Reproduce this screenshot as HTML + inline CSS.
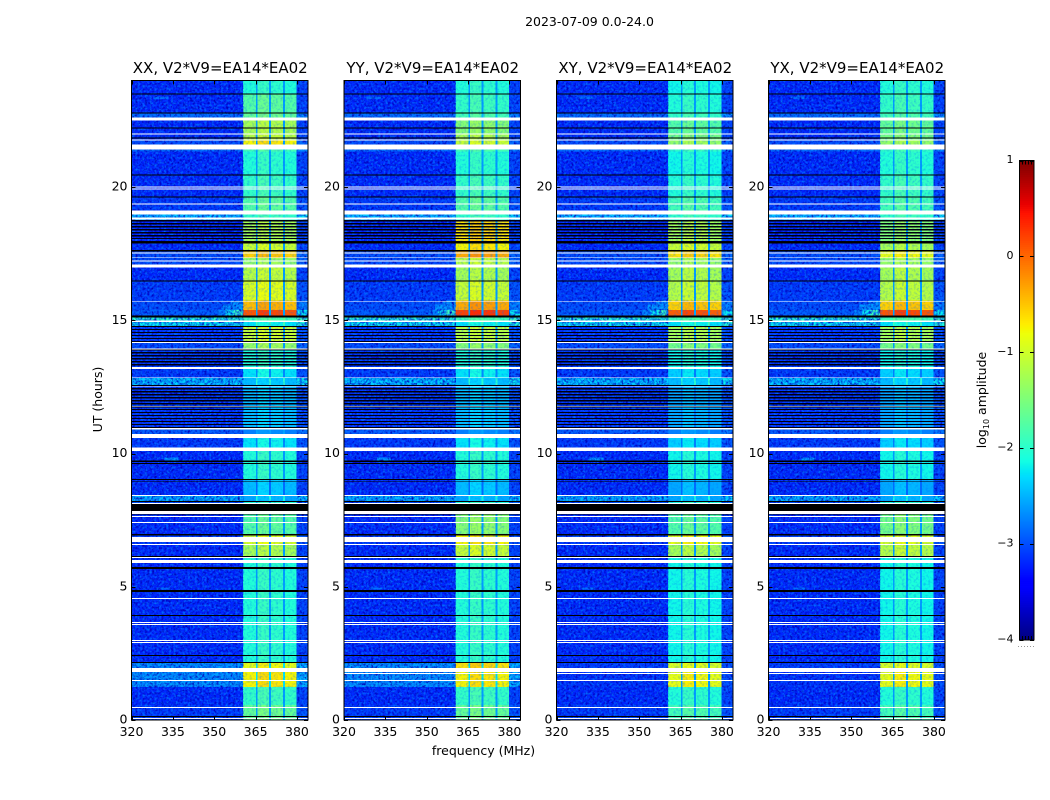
<!DOCTYPE html>
<html lang="en">
<head>
<meta charset="utf-8">
<title>2023-07-09 dynamic spectra</title>
<style>
  html, body { margin: 0; padding: 0; background: #fff; }
  svg { display: block; }
  text { font-family: "DejaVu Sans", "Liberation Sans", sans-serif; fill: #000; }
</style>
</head>
<body>
<svg id="chart" xmlns="http://www.w3.org/2000/svg" width="1050" height="800" viewBox="0 0 1050 800">
  <defs>
    <filter id="darkSpeck" x="0" y="0" width="100%" height="100%" color-interpolation-filters="sRGB">
      <feTurbulence type="fractalNoise" baseFrequency="0.42" numOctaves="2" seed="4"/>
      <feColorMatrix type="matrix" values="0 0 0 0 0  0 0 0 0 0  0 0 0 0 0.72  2.6 0 0 0 -1.1"/>
    </filter>
    <filter id="lightSpeck" x="0" y="0" width="100%" height="100%" color-interpolation-filters="sRGB">
      <feTurbulence type="fractalNoise" baseFrequency="0.42" numOctaves="2" seed="11"/>
      <feColorMatrix type="matrix" values="0 0 0 0 0  0 0 0 0 0.42  0 0 0 0 1  0 2.6 0 0 -1.15"/>
    </filter>
  </defs>
  <rect x="0" y="0" width="1050" height="800" fill="#fff"/>
  <text x="589.5" y="26" font-size="12.5" text-anchor="middle">2023-07-09 0.0-24.0</text>
  <text x="483.5" y="755" font-size="12.5" text-anchor="middle">frequency (MHz)</text>
  <text transform="translate(102,399.5) rotate(-90)" font-size="12.5" text-anchor="middle">UT (hours)</text>
  <text transform="translate(986,400) rotate(-90)" font-size="12.5" text-anchor="middle">log<tspan font-size="8" dy="3">10</tspan><tspan dy="-3"> amplitude</tspan></text>
  <g id="panels"></g>
  <g id="colorbar"></g>
</svg>
<script>
// ---------- data ----------
const panelNames = ["XX", "YY", "XY", "YX"];
const baselineLabel = "V2*V9=EA14*EA02";
const freqTicks = [320, 335, 350, 365, 380];
const hourTicks = [0, 5, 10, 15, 20];
const colorTicks = [-4, -3, -2, -1, 0, 1];

// in-band receiver segments (MHz)
const subbandStart = [360.5, 365.6, 370.5, 375.6];
const subbandEnd = [365.1, 369.9, 375.0, 379.9];

// time ranges (UT hours) and log10 amplitude in each
const rangeStart = [23.51,22.76,22.50,22.01,21.75,21.60,21.34,20.48,19.65,18.98,18.75,17.93,17.63,17.36,16.99,16.50,15.75,15.38,15.15,14.96,14.78,14.18,13.91,13.20,12.83,12.56,10.95,10.58,10.09,9.00,8.44,8.21,7.73,6.98,6.56,6.15,2.14,1.95,1.24,0.56,0.00];
const rangeEnd   = [24.00,23.51,22.76,22.50,22.01,21.75,21.60,21.34,20.48,19.65,18.98,18.75,17.93,17.63,17.36,16.99,16.50,15.75,15.38,15.15,14.96,14.78,14.18,13.91,13.20,12.83,12.56,10.95,10.58,10.09,9.00,8.44,8.21,7.73,6.98,6.56,6.15,2.14,1.95,1.24,0.56];
const backgroundParallel = [-3.2,-3.2,-2.8,-3.2,-3.2,-3.0,-2.8,-3.2,-3.2,-3.1,-2.4,-3.2,-3.2,-3.0,-3.0,-3.2,-3.1,-3.0,-2.9,-2.0,-2.2,-3.1,-3.0,-3.1,-3.1,-2.35,-3.1,-2.9,-3.1,-3.2,-3.2,-2.45,-3.0,-3.2,-3.1,-3.2,-3.2,-2.6,-2.6,-3.2,-3.1];
const backgroundCross    = [-3.2,-3.2,-2.8,-3.2,-3.2,-3.0,-2.8,-3.2,-3.2,-3.1,-2.4,-3.2,-3.2,-3.0,-3.0,-3.2,-3.1,-3.0,-2.9,-2.0,-2.2,-3.1,-3.0,-3.1,-3.1,-2.35,-3.1,-2.9,-3.1,-3.2,-3.2,-2.45,-3.0,-3.2,-3.1,-3.2,-3.2,-3.1,-3.15,-3.2,-3.1];
const bandXX = [-2.0,-1.7,-1.6,-1.2,-1.1,-0.7,-1.8,-2.0,-1.9,-1.7,-1.9,-1.2,-1.0,-0.5,-1.3,-1.1,-0.9,-0.4,0.15,-1.8,-2.2,-1.0,-1.3,-2.0,-2.2,-2.4,-2.4,-2.7,-2.2,-2.0,-2.4,-2.5,-2.0,-1.7,-0.9,-1.2,-2.0,-0.8,-0.7,-1.9,-1.6];
const bandYY = [-2.0,-1.9,-1.8,-1.4,-1.2,-1.0,-1.8,-2.0,-1.9,-1.7,-1.9,-0.6,-0.7,-0.3,-1.1,-1.2,-1.0,-0.3,0.25,-1.8,-2.2,-1.1,-1.4,-2.0,-2.2,-2.4,-2.4,-2.7,-2.2,-2.0,-2.4,-2.5,-2.0,-1.4,-0.7,-1.0,-2.0,-0.6,-0.7,-1.9,-1.6];
const bandXY = [-2.1,-2.0,-1.9,-1.7,-1.5,-1.3,-1.9,-2.1,-2.0,-1.8,-1.9,-1.2,-1.0,-0.6,-1.3,-1.2,-1.1,-0.5,0.10,-1.8,-2.2,-1.2,-1.5,-2.1,-2.3,-2.4,-2.5,-2.7,-2.3,-2.1,-2.5,-2.5,-2.0,-1.7,-0.8,-1.2,-2.1,-0.9,-0.8,-2.0,-1.8];
const bandYX = [-2.0,-1.9,-1.8,-1.6,-1.5,-1.3,-1.9,-2.0,-1.9,-1.8,-1.9,-1.4,-1.2,-0.8,-1.3,-1.2,-1.1,-0.5,0.15,-1.8,-2.2,-1.2,-1.5,-2.1,-2.3,-2.4,-2.5,-2.7,-2.3,-2.1,-2.5,-2.5,-2.0,-1.5,-0.9,-1.1,-2.1,-0.9,-0.8,-2.0,-1.8];
const subbandTilt = [-0.05, 0.08, 0.02, -0.05];

// flagged rows (white) and zero-amplitude rows (black), UT hours
const whiteStart = [22.50,21.98,21.75,21.41,19.99,19.91,19.35,18.98,18.79,17.51,17.33,17.21,16.99,15.68,14.94,14.14,13.91,13.18,12.83,12.51,11.76,10.91,10.58,10.09,8.40,8.10,7.73,7.61,7.39,6.68,6.56,6.08,5.89,4.54,3.64,3.56,2.96,2.89,1.80,1.46,0.45,0.04];
const whiteEnd   = [22.62,22.01,21.79,21.60,20.03,19.95,19.39,19.13,18.86,17.55,17.36,17.25,17.10,15.71,15.00,14.18,13.95,13.24,12.86,12.54,11.79,10.95,10.73,10.22,8.44,8.14,7.84,7.65,7.43,6.87,6.60,6.11,6.00,4.58,3.68,3.60,3.00,2.93,1.95,1.50,0.49,0.08];
const blackStart = [23.47,22.76,22.20,21.83,20.44,19.61,17.89,17.59,16.46,15.11,14.74,12.54,9.69,9.60,9.00,8.93,8.18,7.84,7.69,6.92,6.11,5.66,4.80,3.90,2.40,2.14,0.11];
const blackEnd   = [23.51,22.80,22.24,21.86,20.48,19.65,17.93,17.63,16.50,15.19,14.78,12.56,9.73,9.64,9.04,8.96,8.21,8.10,7.71,6.98,6.15,5.74,4.88,3.94,2.44,2.18,0.15];
const stripeStart = [17.93, 14.18, 13.20, 10.95];
const stripeEnd = [18.75, 14.78, 13.91, 12.56];
const stripePeriodHours = 0.1125;
const stripeWidthHours = 0.045;
const secondWhiteHour = [1.72, 1.72, 1.72];

// local bright features: time, frequency, level
const patchStart = [15.15,15.15,15.15,15.38,15.60,15.15,15.38,23.30,9.72,4.90];
const patchEnd   = [15.38,15.38,15.38,15.60,15.75,15.38,15.75,23.40,9.86,4.98];
const patchFreqLo = [351,354,357,353,356,380.2,380.2,328,332,329];
const patchFreqHi = [354,357,360.5,360.5,360.5,384,384,333.5,337,334];
const patchLevel = [-2.7,-2.2,-1.9,-2.6,-2.6,-2.2,-2.7,-2.8,-2.6,-2.8];

// ---------- axes ----------
const panelLeft = [131.5, 344, 556.5, 768.5];
const panelRight = [308, 520.5, 733, 945];
const plotTop = 80.5, plotBottom = 720;
const freqMin = 320, freqMax = 384, hourMin = 0, hourMax = 24;
const barLeft = 1019.5, barRight = 1034, barTop = 160.5, barBottom = 640, cMin = -4, cMax = 1;
const NS = "http://www.w3.org/2000/svg";

function xScale(p, f) { return panelLeft[p] + (f - freqMin) / (freqMax - freqMin) * (panelRight[p] - panelLeft[p]); }
function yScale(h) { return plotBottom - (h - hourMin) / (hourMax - hourMin) * (plotBottom - plotTop); }
function cScale(v) { return barBottom - (v - cMin) / (cMax - cMin) * (barBottom - barTop); }

function ramp(t, pts) {
  if (t <= pts[0][0]) return pts[0][1];
  for (let i = 1; i < pts.length; i++) {
    if (t <= pts[i][0]) {
      const a = pts[i - 1], b = pts[i];
      return a[1] + (t - a[0]) / (b[0] - a[0]) * (b[1] - a[1]);
    }
  }
  return pts[pts.length - 1][1];
}
function jet(v) {
  const t = Math.max(0, Math.min(1, (v - cMin) / (cMax - cMin)));
  const r = ramp(t, [[0.35, 0], [0.66, 1], [0.89, 1], [1, 0.5]]);
  const g = ramp(t, [[0.125, 0], [0.375, 1], [0.64, 1], [0.91, 0]]);
  const b = ramp(t, [[0, 0.5], [0.11, 1], [0.34, 1], [0.65, 0]]);
  return "rgb(" + Math.round(r * 255) + "," + Math.round(g * 255) + "," + Math.round(b * 255) + ")";
}
function addRect(parent, x, y, w, h, fill) {
  const el = document.createElementNS(NS, "rect");
  el.setAttribute("x", x.toFixed(2));
  el.setAttribute("y", y.toFixed(2));
  el.setAttribute("width", Math.max(w, 0).toFixed(2));
  el.setAttribute("height", Math.max(h, 0).toFixed(2));
  el.setAttribute("fill", fill);
  parent.appendChild(el);
  return el;
}
function addLine(parent, x1, y1, x2, y2, stroke) {
  const el = document.createElementNS(NS, "line");
  el.setAttribute("x1", x1);
  el.setAttribute("y1", y1);
  el.setAttribute("x2", x2);
  el.setAttribute("y2", y2);
  el.setAttribute("stroke", stroke);
  el.setAttribute("stroke-width", "1");
  parent.appendChild(el);
  return el;
}
function addText(parent, x, y, str, size, anchor) {
  const el = document.createElementNS(NS, "text");
  el.setAttribute("x", x);
  el.setAttribute("y", y);
  el.setAttribute("font-size", size);
  el.setAttribute("text-anchor", anchor);
  el.textContent = str;
  parent.appendChild(el);
  return el;
}

// ---------- panels ----------
const panelsRoot = document.getElementById("panels");
const bandSets = [bandXX, bandYY, bandXY, bandYX];
const backgroundSets = [backgroundParallel, backgroundParallel, backgroundCross, backgroundCross];

function cell(group, p, t0, t1, f0, f1, level) {
  const el = addRect(group, xScale(p, f0), yScale(t1), xScale(p, f1) - xScale(p, f0), yScale(t0) - yScale(t1), jet(level));
  el.setAttribute("shape-rendering", "crispEdges");
  
  
}
function band(group, p, t0, t1, color, name) {
  const el = addRect(group, panelLeft[p] + 0.5, yScale(t1), panelRight[p] - panelLeft[p] - 0.5, yScale(t0) - yScale(t1), color);
  el.setAttribute("shape-rendering", "crispEdges");
  
  
}
function noise(group, p, f0, f1, filterId, fill, opacity, name) {
  const el = addRect(group, xScale(p, f0), plotTop, xScale(p, f1) - xScale(p, f0), plotBottom - plotTop, fill);
  el.setAttribute("filter", "url(#" + filterId + ")");
  el.setAttribute("opacity", opacity);
  
  
}

panelNames.forEach(function (name, p) {
  const g = document.createElementNS(NS, "g");
  
  
  panelsRoot.appendChild(g);

  const bg = backgroundSets[p], lv = bandSets[p];
  rangeStart.forEach(function (t0, i) {
    const t1 = rangeEnd[i];
    const gap = Math.max(bg[i] + 0.35, Math.min(-2.6, lv[i] - 0.5));
    cell(g, p, t0, t1, freqMin, subbandStart[0], bg[i]);
    subbandStart.forEach(function (f0, s) {
      cell(g, p, t0, t1, f0, subbandEnd[s], lv[i] + subbandTilt[s]);
      const next = s < subbandStart.length - 1 ? subbandStart[s + 1] : freqMax;
      const edge = s < subbandStart.length - 1 ? gap : bg[i] + 0.15;
      cell(g, p, t0, t1, subbandEnd[s], next, edge);
    });
  });
  patchStart.forEach(function (t0, i) {
    cell(g, p, t0, patchEnd[i], patchFreqLo[i], patchFreqHi[i], patchLevel[i]);
  });

  noise(g, p, freqMin, subbandStart[0], "darkSpeck", "#000", 1, "noise-dark-overlay");
  noise(g, p, freqMin, subbandStart[0], "lightSpeck", "#08f", 1, "noise-light-overlay");
  noise(g, p, subbandStart[0], subbandEnd[3], "lightSpeck", "#08f", 0.35, "noise-light-overlay-band");
  noise(g, p, subbandEnd[3], freqMax, "darkSpeck", "#000", 1, "noise-dark-overlay");
  noise(g, p, subbandEnd[3], freqMax, "lightSpeck", "#08f", 1, "noise-light-overlay");

  stripeStart.forEach(function (t0, i) {
    for (let t = t0; t < stripeEnd[i]; t += stripePeriodHours) {
      band(g, p, t, t + stripeWidthHours, "#000010", "zero-amplitude-stripe");
    }
  });
  blackStart.forEach(function (t0, i) { band(g, p, t0, blackEnd[i], "#000", "zero-amplitude-row"); });
  whiteStart.forEach(function (t0, i) { band(g, p, t0, whiteEnd[i], "#fff", "flagged-row"); });
  if (p > 0) band(g, p, secondWhiteHour[p - 1], secondWhiteHour[p - 1] + 0.04, "#fff", "flagged-row");

  // frame
  const frame = addRect(g, panelLeft[p], plotTop, panelRight[p] - panelLeft[p], plotBottom - plotTop, "none");
  frame.setAttribute("stroke", "#000");
  frame.setAttribute("stroke-width", "1");
  
  

  // x ticks
  freqTicks.forEach(function (f) {
    const x = Math.round(xScale(p, f)) + 0.5;
    const a = addLine(g, x, plotBottom, x, plotBottom - 4, "#000");
    
    
    const b = addLine(g, x, plotTop, x, plotTop + 4, "#000");
    
    
    const lab = addText(g, xScale(p, f), plotBottom + 16, String(f), 12.5, "middle");
    
    
  });
  // y ticks
  hourTicks.forEach(function (h) {
    const y = Math.round(yScale(h)) + 0.5;
    const a = addLine(g, panelLeft[p], y, panelLeft[p] + 4, y, "#000");
    
    
    const b = addLine(g, panelRight[p], y, panelRight[p] - 4, y, "#000");
    
    
    const lab = addText(g, panelLeft[p] - 4, yScale(h) + 3.5, String(h), 12.5, "end");
    
    
  });
  const title = addText(g, (panelLeft[p] + panelRight[p]) / 2 + 0.5, 73, name + ", " + baselineLabel, 15, "middle");
  
  
});

// ---------- colorbar ----------
const cb = document.getElementById("colorbar");
const colorSteps = 240;
for (let i = 0; i < colorSteps; i++) {
  const v0 = cMin + i / colorSteps * (cMax - cMin);
  const v1 = cMin + (i + 1) / colorSteps * (cMax - cMin);
  const seg = addRect(cb, barLeft, cScale(v1), barRight - barLeft, cScale(v0) - cScale(v1) + 0.4, jet((v0 + v1) / 2));
  
  
}
const cbFrame = addRect(cb, barLeft, barTop, barRight - barLeft, barBottom - barTop, "none");
cbFrame.setAttribute("stroke", "#000");


colorTicks.forEach(function (v) {
  const y = Math.round(cScale(v)) + 0.5;
  const a = addLine(cb, barLeft, y, barLeft + 4, y, "#000");
  
  
  const b = addLine(cb, barRight, y, barRight - 4, y, "#000");
  
  
  const lab = addText(cb, barLeft - 6, cScale(v) + 2.5, (v < 0 ? "\u2212" : "") + Math.abs(v), 11, "end");
  
  
});
[1022, 1025, 1028, 1031].forEach(function (x) {
  const top = addLine(cb, x + 0.5, barTop, x + 0.5, barTop + 4, "#000");
  
  
  const bot = addLine(cb, x + 0.5, barBottom, x + 0.5, barBottom - 4, "#000");
  
  
});
const dots = addLine(cb, 1018, 646.5, 1034, 646.5, "#999");
dots.setAttribute("stroke-dasharray", "1 2");


</script>
</body>
</html>
